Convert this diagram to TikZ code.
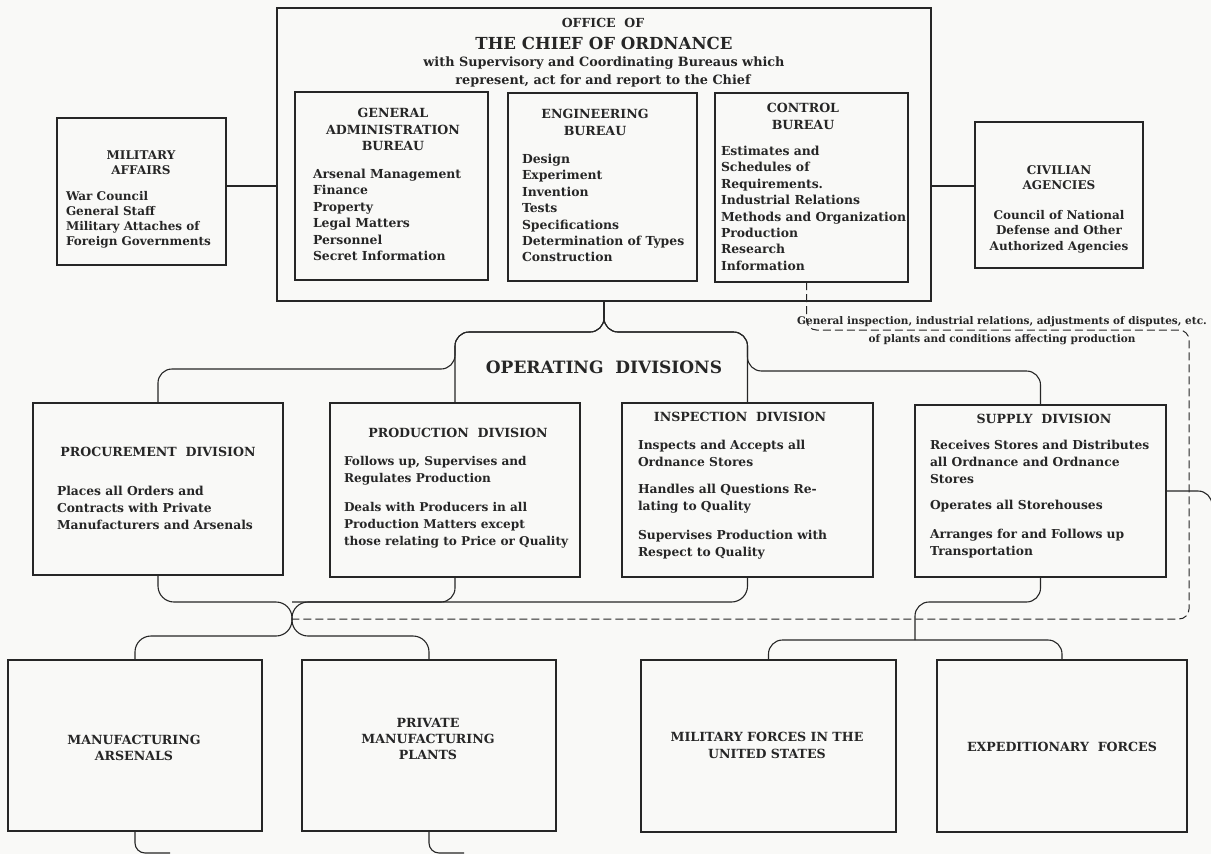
\documentclass[tikz,border=0pt]{standalone}
\usepackage{fontspec}
\setmainfont{DejaVu Serif}
\usetikzlibrary{calc}
\definecolor{ink}{RGB}{38,38,38}
\definecolor{paper}{RGB}{249,249,247}
\newcommand{\rbox}[5]{\node[box,anchor=north west,minimum width={(#4)-(#2)},minimum height={(#5)-(#3)}] (#1) at (#2,#3) {};}
\begin{document}
\begin{tikzpicture}[x=1pt,y=-1pt,
  box/.style={draw=ink,line width=1.5pt,inner sep=0pt,outer sep=0pt},
  conn/.style={draw=ink,line width=1.1pt,rounded corners=14pt},
  dashline/.style={draw=ink,line width=1pt,dash pattern=on 8pt off 4pt,rounded corners=10pt},
  txt/.style={inner sep=0pt,outer sep=0pt,text=ink,font=\bfseries\fontsize{12.4}{16.4}\selectfont},
  captxt/.style={txt,font=\bfseries\fontsize{12.6}{16.4}\selectfont,align=center},
  lst/.style={txt,anchor=north west,align=left},
  dlst/.style={lst,font=\bfseries\fontsize{12.3}{17}\selectfont}]
\fill[paper] (0,0) rectangle (1211,854);
\useasboundingbox (0,0) rectangle (1211,854);

% boxes
\rbox{office}{277}{8}{931}{301}
\rbox{ga}{295}{92}{488}{280}
\rbox{eng}{508}{93}{697}{281}
\rbox{ctrl}{715}{93}{908}{282}
\rbox{mil}{57}{118}{226}{265}
\rbox{civ}{975}{122}{1143}{268}
\rbox{proc}{33}{403}{283}{575}
\rbox{prod}{330}{403}{580}{577}
\rbox{insp}{622}{403}{873}{577}
\rbox{sup}{915}{405}{1166}{577}
\rbox{ars}{8}{660}{262}{831}
\rbox{priv}{302}{660}{556}{831}
\rbox{milf}{641}{660}{896}{832}
\rbox{expf}{937}{660}{1187}{832}

% office text
\node[txt,font=\bfseries\fontsize{12.5}{14}\selectfont] (t-of) at (603,23) {OFFICE\ \ OF};
\node[txt,font=\bfseries\fontsize{16.6}{18}\selectfont] (t-chief) at (604,43) {THE CHIEF OF ORDNANCE};
\node[txt,anchor=base,font=\bfseries\fontsize{12.8}{16}\selectfont] (t-with) at (604,66.5) {with Supervisory and Coordinating Bureaus which};
\node[txt,anchor=base,font=\bfseries\fontsize{12.8}{16}\selectfont] (t-rep) at (603,84.5) {represent, act for and report to the Chief};

\node[captxt,anchor=north] (ga-t) at (393,108.5) {GENERAL\\ADMINISTRATION\\BUREAU};
\node[lst] (ga-l) at (313,169) {Arsenal Management\\Finance\\Property\\Legal Matters\\Personnel\\Secret Information};
\node[captxt,anchor=north] (eng-t) at (595,109.5) {ENGINEERING\\BUREAU};
\node[lst] (eng-l) at (522,154) {Design\\Experiment\\Invention\\Tests\\Specifications\\Determination of Types\\Construction};
\node[captxt,anchor=north] (ctrl-t) at (803,103.5) {CONTROL\\BUREAU};
\node[lst] (ctrl-l) at (721,146) {Estimates and\\Schedules of\\Requirements.\\Industrial Relations\\Methods and Organization\\Production\\Research\\Information};

\node[captxt,anchor=north,font=\bfseries\fontsize{12}{15}\selectfont] (mil-t) at (141,151) {MILITARY\\AFFAIRS};
\node[lst,font=\bfseries\fontsize{12}{15}\selectfont] (mil-l) at (66,191) {War Council\\General Staff\\Military Attaches of\\Foreign Governments};
\node[captxt,anchor=north,font=\bfseries\fontsize{12}{15}\selectfont] (civ-t) at (1059,166) {CIVILIAN\\AGENCIES};
\node[txt,anchor=north,align=center,font=\bfseries\fontsize{12}{15.5}\selectfont] (civ-l) at (1059,210) {Council of National\\Defense and Other\\Authorized Agencies};

% connectors top
\draw[conn] (mil.east |- 0,186) coordinate (m1) -- (office.west |- m1);
\draw[conn] (civ.west |- 0,186) coordinate (c1) -- (office.east |- c1);

\coordinate (ub) at (604,332);
\draw[conn] (office.south) -- (ub) -| (prod.north);
\draw[conn] (office.south) -- (ub) -| (prod.north |- 0,369) -| (proc.north);
\draw[conn] (office.south) -- (ub) -| (insp.north);
\draw[conn] (office.south) -- (ub) -| (insp.north |- 0,371) -| (sup.north);

\node[txt,font=\bfseries\fontsize{17}{19}\selectfont] (opdiv) at (604,367) {OPERATING\ \ DIVISIONS};

% dashed
\coordinate (d0) at ($(ctrl.south)+(-5,0)$);
\coordinate (cr) at (292,619);
\draw[dashline] (d0) -- (d0 |- 0,330) -- (1189,330) -- (1189,619) -- (cr);
\node[txt,anchor=north,align=center,font=\bfseries\fontsize{10.5}{18}\selectfont] (dlab) at (1002,316.5) {General inspection, industrial relations, adjustments of disputes, etc.\\of plants and conditions affecting production};

% division texts
\node[captxt] (proc-t) at (158,452) {PROCUREMENT\ \ DIVISION};
\node[dlst] (proc-l) at (57,486) {Places all Orders and\\Contracts with Private\\Manufacturers and Arsenals};
\node[captxt] (prod-t) at (458,433) {PRODUCTION\ \ DIVISION};
\node[dlst,font=\bfseries\fontsize{12.1}{17.2}\selectfont] (prod-l1) at (344,456) {Follows up, Supervises and\\Regulates Production};
\node[dlst,font=\bfseries\fontsize{12.1}{17.2}\selectfont] (prod-l2) at (344,502) {Deals with Producers in all\\Production Matters except\\those relating to Price or Quality};
\node[captxt] (insp-t) at (740,417) {INSPECTION\ \ DIVISION};
\node[dlst] (insp-l1) at (638,440) {Inspects and Accepts all\\Ordnance Stores};
\node[dlst] (insp-l2) at (638,484) {Handles all Questions Re-\\lating to Quality};
\node[dlst] (insp-l3) at (638,530) {Supervises Production with\\Respect to Quality};
\node[captxt] (sup-t) at (1044,419) {SUPPLY\ \ DIVISION};
\node[dlst] (sup-l1) at (930,440) {Receives Stores and Distributes\\all Ordnance and Ordnance\\Stores};
\node[dlst] (sup-l2) at (930,500) {Operates all Storehouses};
\node[dlst] (sup-l3) at (930,529) {Arranges for and Follows up\\Transportation};

% bottom texts
\node[captxt] (ars-t) at (134,748) {MANUFACTURING\\ARSENALS};
\node[captxt] (priv-t) at (428,739) {PRIVATE\\MANUFACTURING\\PLANTS};
\node[captxt] (milf-t) at (767,745.5) {MILITARY FORCES IN THE\\UNITED STATES};
\node[captxt] (expf-t) at (1062,747) {EXPEDITIONARY\ \ FORCES};

% lower connectors
\draw[conn,rounded corners=16pt] (proc.south) |- ($(cr)+(0,-17)$) -- ($(cr)+(0,17)$) -| (ars.north);
\draw[conn,rounded corners=16pt] (insp.south) |- ($(cr)+(0,-17)$) -- ($(cr)+(0,17)$) -| (priv.north);
\draw[conn] (prod.south) |- ($(cr)+(0,-17)$);
\coordinate (sj) at (915,640);
\draw[conn] (sup.south) |- (sj |- 0,602) -- (sj);
\draw[conn] (milf.north) |- (sj) -| (expf.north);
\draw[conn] (sup.east) -- (sup.east -| 1212,0) -- ++(0,60);
\draw[conn,rounded corners=10pt] (ars.south) |- ++(35,22);
\draw[conn,rounded corners=10pt] (priv.south) |- ++(35,22);
\end{tikzpicture}
\end{document}
